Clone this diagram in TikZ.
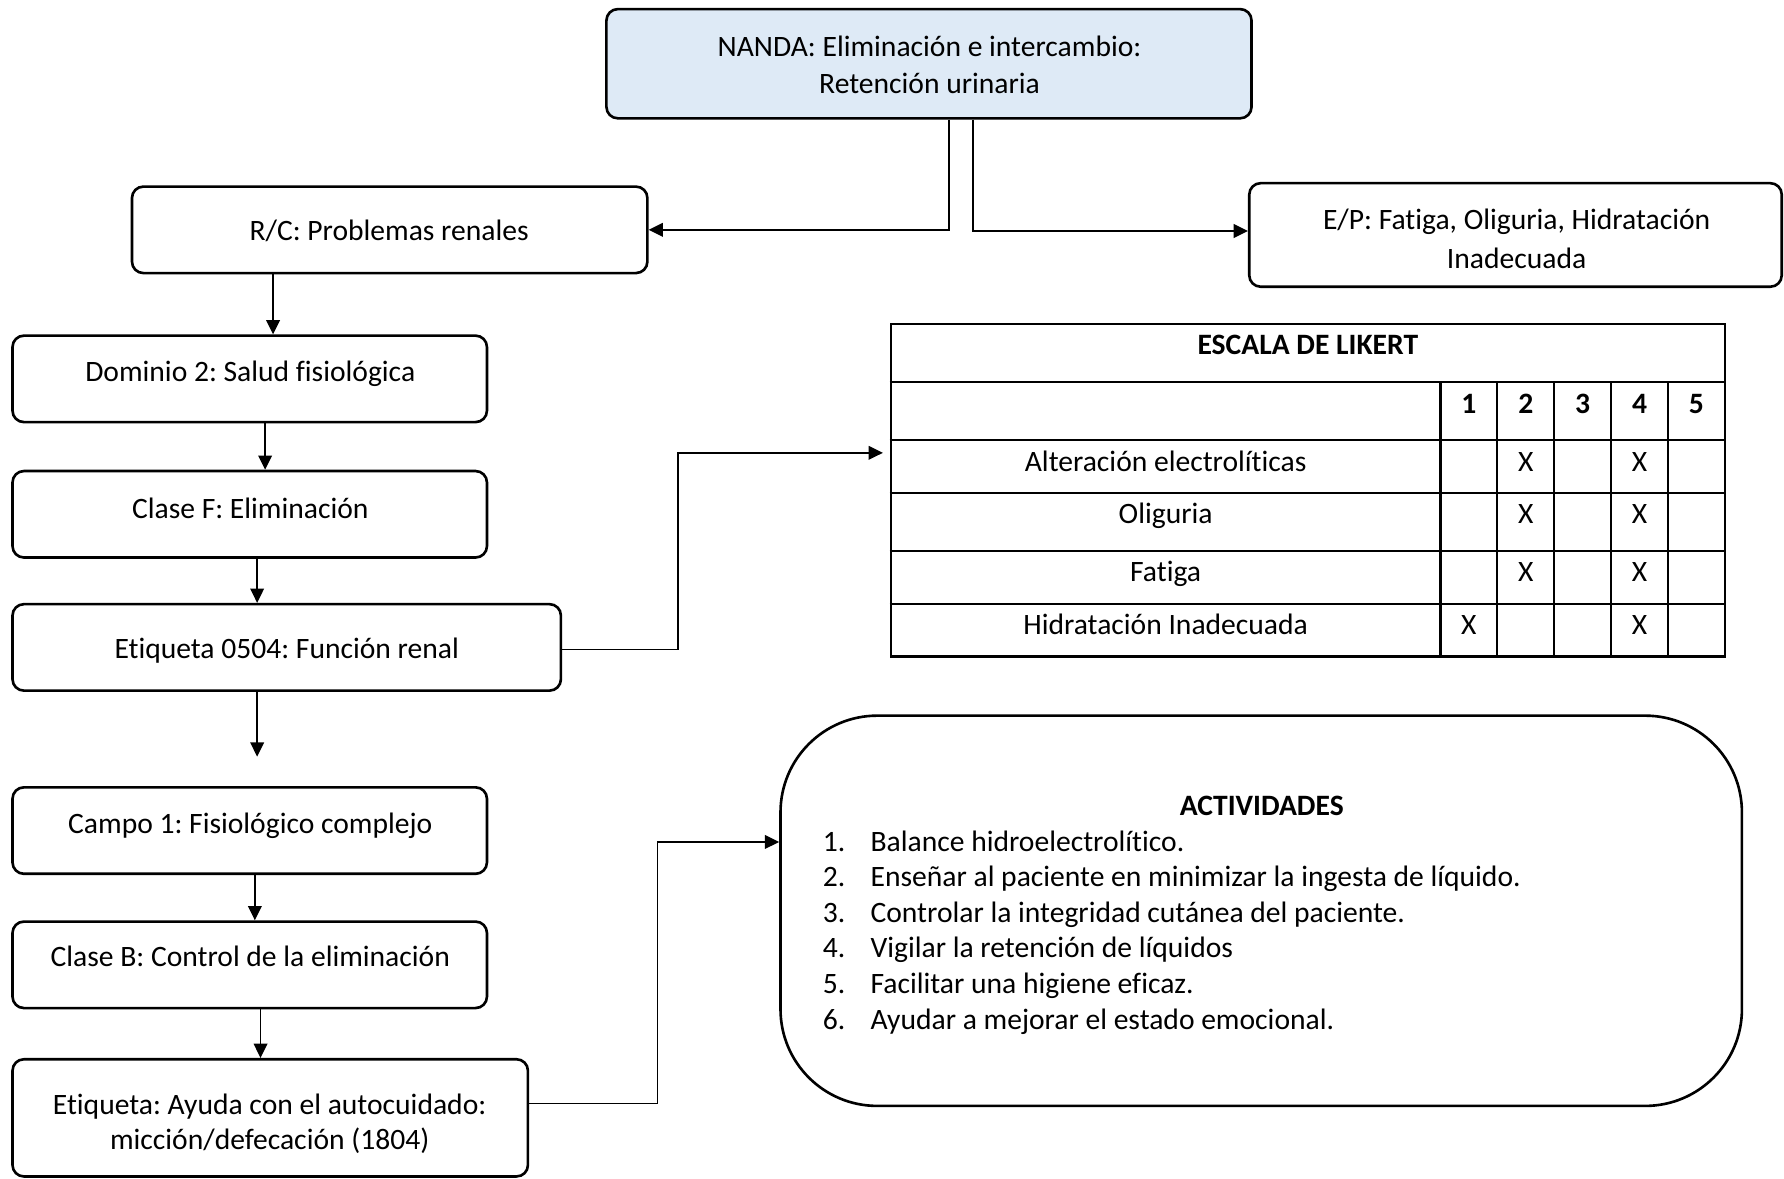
\documentclass[tikz,border=0pt]{standalone}
\usepackage{fontspec}
\setmainfont{Carlito}[Ligatures={NoCommon}]
\usetikzlibrary{arrows.meta,calc}
\definecolor{nandafill}{HTML}{DEEAF6}
\tikzset{
  box/.style={draw, line width=2.3pt, rounded corners=10pt, inner sep=0pt},
  txt/.style={inner sep=0pt, align=center, font=\frenchspacing\fontsize{26}{32}\selectfont},
  one/.style={txt, text height=22.5pt, text depth=3.5pt},
  bone/.style={one, font=\frenchspacing\fontsize{26}{32}\selectfont\bfseries},
  arr/.style={line width=1.4pt, -{Triangle[length=12.5pt,width=12pt]}},
  gridln/.style={line width=2pt},
}
\begin{document}
\begin{tikzpicture}[x=1pt,y=-1pt]
\useasboundingbox (0,0) rectangle (1568,1036);

% boxes
\node[box, fill=nandafill, minimum width=567pt, minimum height=96pt] (nanda) at (816.5,56) {};
\node[box, minimum width=453pt, minimum height=76pt] (rc) at (342.5,202) {};
\node[box, minimum width=468pt, minimum height=91pt] (ep) at (1332,206.5) {};
\node[box, minimum width=417pt, minimum height=76pt] (dom) at (219.5,333) {};
\node[box, minimum width=417pt, minimum height=76pt] (clf) at (219.5,452) {};
\node[box, minimum width=482pt, minimum height=76pt] (e0504) at (252,569) {};
\node[box, minimum width=417pt, minimum height=76pt] (campo) at (219.5,730) {};
\node[box, minimum width=417pt, minimum height=76pt] (clb) at (219.5,848) {};
\node[box, minimum width=453pt, minimum height=103pt] (auto) at (237.5,982.5) {};
\node[box, rounded corners=85pt, minimum width=845pt, minimum height=343pt] (act) at (1108.5,800.5) {};

% box texts
\node[txt] (t-nanda) at (817,57) {NANDA: Eliminación e intercambio:\\Retención urinaria};
\node[one] (t-rc) at (342,202) {R/C: Problemas renales};
\node[txt, font=\frenchspacing\fontsize{26}{34}\selectfont] (t-ep) at (1333,210) {E/P: Fatiga, Oliguria, Hidratación\\Inadecuada};
\node[one] (t-dom) at (220,326) {Dominio 2: Salud fisiológica};
\node[one] (t-clf) at (220,446) {Clase F: Eliminación};
\node[one] (t-e0504) at (252,569) {Etiqueta 0504: Función renal};
\node[one] (t-campo) at (220,723) {Campo 1: Fisiológico complejo};
\node[one] (t-clb) at (220,840) {Clase B: Control de la eliminación};
\node[txt, font=\frenchspacing\fontsize{26}{31}\selectfont] (t-auto) at (237,988) {Etiqueta: Ayuda con el autocuidado:\\micción/defecación (1804)};

% table
\node[draw, gridln, inner sep=0pt, minimum width=733pt, minimum height=292pt] (tbl) at (1149.5,431) {};
\foreach \yy in {336,387,433,484,531} \draw[gridln] (tbl.west |- 0,\yy) -- (tbl.east |- 0,\yy);
\foreach \xx in {1266,1316,1366,1416,1466} \draw[gridln] (\xx,336) -- (\xx,577);
\node[bone] (t-likert) at (1149.5,302) {ESCALA DE LIKERT};
\foreach \xx/\n in {1291/1,1341/2,1391/3,1441/4,1491/5}
  \node[bone] (t-num\n) at (\xx,354) {\n};
\node[one] (r1) at (1024.5,405) {Alteración electrolíticas};
\node[one] (r2) at (1024.5,451) {Oliguria};
\node[one] (r3) at (1024.5,502) {Fatiga};
\node[one] (r4) at (1024.5,548) {Hidratación Inadecuada};
\foreach \xx/\yy/\k in {1341/405/a,1441/405/b,1341/451/c,1441/451/d,1341/502/e,1441/502/f,1291/548/g,1441/548/h}
  \node[one] (x-\k) at (\xx,\yy) {X};

% actividades
\node[bone] (t-act) at (1109,707) {ACTIVIDADES};
\foreach \i/\yy/\t in {1/739/{Balance hidroelectrolítico.},
  2/770/{Enseñar al paciente en minimizar la ingesta de líquido.},
  3/801/{Controlar la integridad cutánea del paciente.},
  4/832/{Vigilar la retención de líquidos},
  5/864/{Facilitar una higiene eficaz.},
  6/895/{Ayudar a mejorar el estado emocional.}}{
  \node[one, anchor=west] (an-\i) at (723,\yy) {\i.};
  \node[one, anchor=west] (at-\i) at (765,\yy) {\t};
}

% connectors
\draw[arr] (nanda.south -| 834,0) |- (rc.east);
\draw[arr] (nanda.south -| 855,0) |- ([yshift=3.5pt]ep.west);
\draw[arr] (rc.south -| 240,0) -- (dom.north -| 240,0);
\draw[arr] (dom.south -| 233,0) -- (clf.north -| 233,0);
\draw[arr] (clf.south -| 226,0) -- (e0504.north -| 226,0);
\coordinate (free) at (226,665);
\draw[arr] (e0504.south -| 226,0) -- (free);
\draw[arr] (campo.south -| 224,0) -- (clb.north -| 224,0);
\draw[arr] (clb.south -| 229,0) -- (auto.north -| 229,0);
\coordinate (tblin) at (776,398);
\draw[arr] (e0504.east |- 0,571) -| (596,398) -- (tblin);
\draw[arr] (auto.east |- 0,970) -| (578,740) -- (act.west |- 0,740);
\end{tikzpicture}
\end{document}
